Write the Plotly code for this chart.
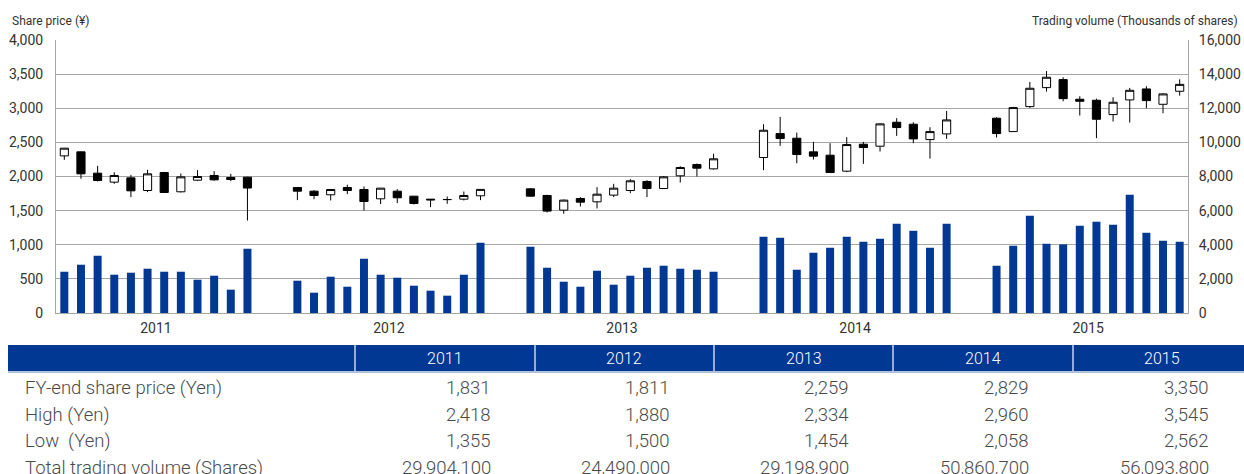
import plotly.graph_objects as go

years = ["2011", "2012", "2013", "2014", "2015"]
months_per_year = 12
gap_slots = 2

opens = [
    2302, 2361, 2049, 1917, 1980, 1795, 2058, 1776, 1946, 2015, 1985, 1990,
    1839, 1785, 1732, 1839, 1810, 1673, 1785, 1712, 1668, 1661, 1668, 1717,
    1819, 1722, 1507, 1678, 1629, 1727, 1795, 1927, 1824, 2010, 2176, 2112,
    2278, 2629, 2561, 2361, 2312, 2078, 2473, 2444, 2795, 2766, 2541, 2624,
    2854, 2658, 3024, 3302, 3420, 3132, 3117, 2907, 3122, 3283, 3058, 3249,
]
highs = [
    2418, 2366, 2156, 2063, 2024, 2098, 2068, 2044, 2093, 2078, 2039, 1995,
    1844, 1800, 1812, 1880, 1854, 1831, 1815, 1714, 1670, 1707, 1780, 1811,
    1829, 1732, 1663, 1698, 1844, 1893, 1961, 1946, 2005, 2151, 2190, 2334,
    2766, 2873, 2644, 2507, 2488, 2576, 2507, 2780, 2854, 2795, 2722, 2960,
    2868, 3020, 3385, 3545, 3454, 3176, 3141, 3161, 3298, 3322, 3220, 3424,
]
lows = [
    2244, 1966, 1927, 1893, 1698, 1771, 1761, 1766, 1937, 1937, 1932, 1355,
    1654, 1668, 1649, 1741, 1500, 1595, 1610, 1590, 1551, 1600, 1649, 1654,
    1707, 1473, 1454, 1561, 1532, 1698, 1756, 1698, 1815, 1912, 2000, 2102,
    2093, 2449, 2195, 2249, 2058, 2063, 2185, 2366, 2595, 2488, 2263, 2551,
    2571, 2654, 3005, 3244, 3102, 2893, 2562, 2805, 2790, 3000, 2927, 3185,
]
closes = [
    2415, 2039, 1941, 2015, 1790, 2039, 1766, 1995, 2000, 1951, 1956, 1831,
    1785, 1722, 1810, 1795, 1634, 1829, 1688, 1605, 1658, 1663, 1722, 1811,
    1712, 1493, 1654, 1624, 1741, 1829, 1937, 1824, 1995, 2132, 2122, 2259,
    2678, 2556, 2322, 2298, 2058, 2468, 2424, 2771, 2717, 2551, 2658, 2829,
    2629, 3010, 3293, 3454, 3141, 3102, 2839, 3088, 3263, 3112, 3210, 3350,
]
volumes = [
    2419, 2829, 3356, 2244, 2361, 2595, 2419, 2419, 1951, 2185, 1366, 3766,
    1893, 1190, 2127, 1541, 3180, 2244, 2068, 1600, 1307, 1015, 2244, 4117,
    3883, 2653, 1834, 1541, 2478, 1658, 2185, 2653, 2770, 2595, 2536, 2419,
    4468, 4409, 2536, 3531, 3824, 4468, 4175, 4351, 5229, 4819, 3824, 5229,
    2770, 3941, 5697, 4058, 4019, 5112, 5346, 5170, 6926, 4702, 4234, 4175,
]

price_ticks = [0, 500, 1000, 1500, 2000, 2500, 3000, 3500, 4000]
volume_ticks = [0, 2000, 4000, 6000, 8000, 10000, 12000, 14000, 16000]

table_header = ["", "2011", "2012", "2013", "2014", "2015"]
row_labels = ["FY-end share price (Yen)", "High (Yen)", "Low  (Yen)", "Total trading volume (Shares)"]
fy_end_price = ["1,831", "1,811", "2,259", "2,829", "3,350"]
high_price = ["2,418", "1,880", "2,334", "2,960", "3,545"]
low_price = ["1,355", "1,500", "1,454", "2,058", "2,562"]
total_volume = ["29,904,100", "24,490,000", "29,198,900", "50,860,700", "56,093,800"]
table_rows = [fy_end_price, high_price, low_price, total_volume]

# slot positions: each year occupies 12 slots, followed by 2 empty slots
slot = months_per_year + gap_slots
xpos = [yi * slot + m for yi in range(len(years)) for m in range(months_per_year)]
year_centers = [yi * slot + (months_per_year - 1) / 2 for yi in range(len(years))]
n_slots = len(years) * months_per_year + (len(years) - 1) * gap_slots

W, H = 1244, 474
BLUE = "#013893"
TEXT = "#333333"
FONT = "Roboto, 'DejaVu Sans', sans-serif"


def px(x):
    return x / W


def py(y):
    return 1 - y / H


fig = go.Figure()

fig.add_trace(go.Bar(
    x=xpos, y=volumes, yaxis="y2", width=0.48,
    marker=dict(color=BLUE, line=dict(width=0)),
    showlegend=False, hoverinfo="y",
))

fig.add_trace(go.Candlestick(
    x=xpos, open=opens, high=highs, low=lows, close=closes,
    increasing=dict(fillcolor="white", line=dict(color="black", width=1)),
    decreasing=dict(fillcolor="black", line=dict(color="black", width=1)),
    whiskerwidth=0, showlegend=False,
))

fig.update_layout(
    width=W, height=H, autosize=False,
    margin=dict(l=0, r=0, t=0, b=0, pad=0, autoexpand=False),
    paper_bgcolor="white", plot_bgcolor="white",
    font=dict(family=FONT, color=TEXT),
    boxgap=0.3, boxgroupgap=0.3,
    xaxis=dict(
        domain=[px(56), px(1188)],
        range=[-0.5, n_slots - 0.5],
        tickvals=year_centers, ticktext=years,
        ticks="", showgrid=False, zeroline=False,
        showline=True, linecolor="#a6a6a6", linewidth=1,
        tickfont=dict(size=14, color=TEXT),
        ticklabelstandoff=2,
        rangeslider=dict(visible=False),
        fixedrange=True, automargin=False,
    ),
    yaxis=dict(
        domain=[py(313), py(40)],
        range=[0, 4000],
        tickvals=price_ticks, tickformat=",d",
        showgrid=True, gridcolor="#a6a6a6", gridwidth=1,
        zeroline=False, showline=True, linecolor="#a6a6a6", linewidth=1,
        ticks="", tickfont=dict(size=14, color=TEXT),
        ticklabelstandoff=9, automargin=False,
    ),
    yaxis2=dict(
        overlaying="y", side="right",
        range=[0, 16000],
        tickvals=volume_ticks, tickformat=",d",
        showgrid=False, zeroline=False,
        showline=True, linecolor="#a6a6a6", linewidth=1,
        ticks="", tickfont=dict(size=14, color=TEXT),
        ticklabelstandoff=7, automargin=False,
    ),
)

annotations = [
    dict(text="Share price (¥)", x=px(10), y=py(21), xref="paper", yref="paper",
         xanchor="left", yanchor="middle", showarrow=False,
         font=dict(size=12, color=TEXT)),
    dict(text="Trading volume (Thousands of shares)", x=px(1240), y=py(21),
         xref="paper", yref="paper", xanchor="right", yanchor="middle",
         showarrow=False, font=dict(size=12, color=TEXT)),
]

shapes = []
# table
col_edges = [8, 355, 535, 714, 893, 1073, 1252]
header_top, header_bot = 345, 371
row_centers = [388, 414.5, 441, 467.5]

shapes.append(dict(type="rect", xref="paper", yref="paper",
                   x0=px(col_edges[0]), x1=px(W), y0=py(header_bot), y1=py(header_top),
                   fillcolor=BLUE, line=dict(width=0), layer="above"))
shapes.append(dict(type="line", xref="paper", yref="paper",
                   x0=px(col_edges[0]), x1=px(W), y0=py(header_bot + 1), y1=py(header_bot + 1),
                   line=dict(color="#9aabcf", width=1.5)))
for e in col_edges[1:-1]:
    shapes.append(dict(type="line", xref="paper", yref="paper",
                       x0=px(e), x1=px(e), y0=py(header_bot), y1=py(header_top),
                       line=dict(color="#c9d3e8", width=1.5)))

for i, h in enumerate(table_header[1:]):
    cx = (col_edges[i + 1] + col_edges[i + 2]) / 2
    if i == len(table_header) - 2:
        cx = (col_edges[i + 1] + W) / 2 + 3
    annotations.append(dict(text=h, x=px(cx), y=py((header_top + header_bot) / 2),
                            xref="paper", yref="paper", xanchor="center", yanchor="middle",
                            showarrow=False, font=dict(size=16, color="white", weight=300)))

for r, (lab, vals) in enumerate(zip(row_labels, table_rows)):
    yc = row_centers[r]
    annotations.append(dict(text=lab.replace("  ", "&nbsp; "), x=px(23), y=py(yc),
                            xref="paper", yref="paper", xanchor="left", yanchor="middle",
                            showarrow=False, font=dict(size=18.5, color="#4a4a4a", weight=300)))
    for c, v in enumerate(vals):
        right = col_edges[c + 2] - 42 if c < 4 else 1211
        annotations.append(dict(text=v, x=px(right), y=py(yc),
                                xref="paper", yref="paper", xanchor="right", yanchor="middle",
                                showarrow=False, font=dict(size=18.5, color="#4a4a4a", weight=300)))

fig.update_layout(annotations=annotations, shapes=shapes)

fig.write_html(
    "out.html",
    config={"displayModeBar": False, "responsive": False},
    default_width="1244px", default_height="474px",
    post_script=(
        "document.documentElement.style.margin='0';"
        "document.documentElement.style.overflow='hidden';"
        "document.body.style.margin='0';document.body.style.padding='0';"
        "document.body.style.overflow='hidden';"
        "var gd=document.getElementById('{plot_id}');"
        "gd.style.position='absolute';gd.style.top='0px';gd.style.left='0px';"
    ),
)
